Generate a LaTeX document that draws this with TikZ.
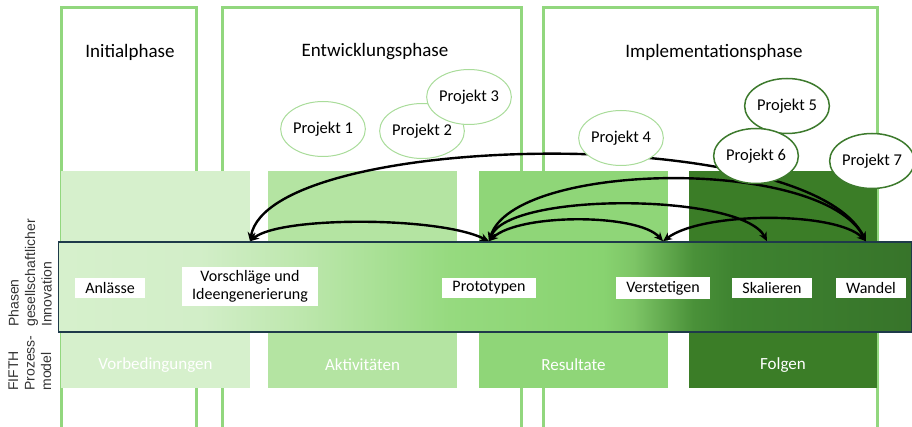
\documentclass[tikz,border=0pt]{standalone}
\usepackage{fontspec}
\setmainfont{Carlito}
\newfontfamily\sidefont{Liberation Sans}
\usetikzlibrary{shapes.geometric,arrows.meta}
\definecolor{phaseline}{HTML}{92D77E}
\definecolor{colA}{HTML}{D6F0CC}
\definecolor{colB}{HTML}{B4E4A2}
\definecolor{colC}{HTML}{8FD678}
\definecolor{colD}{HTML}{3B7D27}
\definecolor{bandline}{HTML}{1E3A4A}
\definecolor{projlight}{HTML}{A9DC9A}
\definecolor{projdark}{HTML}{3D7A2D}
\definecolor{sidetext}{HTML}{333333}
\definecolor{bsA}{HTML}{D6F0CC}
\definecolor{bsB}{HTML}{D2EEC8}
\definecolor{bsC}{HTML}{BDE7AD}
\definecolor{bsD}{HTML}{96DA7F}
\definecolor{bsE}{HTML}{88D370}
\definecolor{bsF}{HTML}{7DC566}
\definecolor{bsG}{HTML}{4A9139}
\definecolor{bsH}{HTML}{3E8330}
\definecolor{bsI}{HTML}{37742A}
\pgfdeclarehorizontalshading{bandshade}{100bp}{color(0bp)=(bsA); color(25bp)=(bsA);
    color(33.3bp)=(bsB); color(39.2bp)=(bsC); color(47.9bp)=(bsD); color(56.9bp)=(bsE);
    color(58.7bp)=(bsF); color(62.2bp)=(bsG); color(64.6bp)=(bsH); color(75bp)=(bsI); color(100bp)=(bsI)}
\tikzset{
    phase/.style={draw=phaseline, line width=3pt},
    phasetitle/.style={font=\fontsize{19}{22}\selectfont},
    colname/.style={text=white, font=\fontsize{17}{20}\selectfont},
    stage/.style={fill=white, inner xsep=10pt, inner ysep=4pt, align=center, font=\fontsize{16}{18}\selectfont},
    side/.style={rotate=90, align=left, inner sep=0pt, text=sidetext, font=\sidefont\fontsize{14}{16.5}\selectfont},
    proj/.style={ellipse, fill=white, draw=projlight, line width=1pt, minimum width=80pt, minimum height=55pt, inner sep=0pt, font=\fontsize{16.5}{18}\selectfont},
    projdk/.style={proj, draw=projdark, line width=1.5pt},
    conn/.style={line width=2.4pt, <->, >={Stealth[length=9pt,width=8pt]}}
}
\begin{document}
\begin{tikzpicture}[x=1pt, y=-1pt]
    \useasboundingbox (0,0) rectangle (912,427);
    \clip (0,0) rectangle (912,427);
    \draw[phase] (61,8) rectangle (196,450);
    \draw[phase] (222,8) rectangle (521,450);
    \draw[phase] (543,8) rectangle (877,450);
    \fill[colA] (61,171) rectangle (250,388);
    \fill[colB] (268,171) rectangle (457,388);
    \fill[colC] (479,171) rectangle (668,388);
    \fill[colD] (689,171) rectangle (877,388);
    \node[phasetitle] (initial) at (130,52) {Initialphase};
    \node[phasetitle] (entw) at (375,52) {Entwicklungsphase};
    \node[phasetitle] (impl) at (714,52) {Implementationsphase};
    \node[colname] (vorbed) at (155.5,365) {Vorbedingungen};
    \node[colname] (aktiv) at (362.5,365) {Aktivitäten};
    \node[colname] (result) at (573.5,365) {Resultate};
    \node[colname] (folgen) at (783,365) {Folgen};
    \node[draw=bandline, line width=1.5pt, shading=bandshade, minimum width=853pt, minimum height=90pt, inner sep=0pt] (band) at (485,287) {};
    \node[stage] (anlass) at (110,288) {Anlässe};
    \node[stage] (vorschlag) at (250,286.5) {Vorschläge und\\Ideengenerierung};
    \node[stage] (proto) at (489,288) {Prototypen};
    \node[stage] (verst) at (663,288) {Verstetigen};
    \node[stage] (skal) at (772,288) {Skalieren};
    \node[stage] (wandel) at (871,288) {Wandel};
    \node[side] (phasen) at (30,273) {Phasen\\gesellschaftlicher\\Innovation};
    \node[side] (fifth) at (30,363) {FIFTH\\Prozess-\\model};
    \coordinate (vT) at (vorschlag.north |- band.north);
    \coordinate (pT) at (proto.north |- band.north);
    \coordinate (veT) at (verst.north |- band.north);
    \coordinate (sT) at ([xshift=-5]skal.north |- band.north);
    \coordinate (wT) at ([xshift=-5]wandel.north |- band.north);
    \draw[conn] (vT) .. controls +(30,-25) and +(-50,-25) .. (pT);
    \draw[conn] (vT) .. controls +(20,-110) and +(-60,-120) .. (wT);
    \draw[conn] (pT) .. controls +(25,-80) and +(-45,-85) .. (wT);
    \draw[conn] (pT) .. controls +(20,-50) and +(-25,-48) .. (sT);
    \draw[conn] (pT) .. controls +(30,-28) and +(-25,-28) .. (veT);
    \draw[conn] (veT) .. controls +(40,-30) and +(-30,-30) .. (wT);
    \node[proj] (p1) at (323,129) {Projekt 1};
    \node[proj] (p2) at (422,131) {Projekt 2};
    \node[proj] (p3) at (469,97) {Projekt 3};
    \node[proj] (p4) at (621,138) {Projekt 4};
    \node[projdk] (p5) at (787,106) {Projekt 5};
    \node[projdk] (p6) at (756,156) {Projekt 6};
    \node[projdk] (p7) at (872,161) {Projekt 7};
\end{tikzpicture}
\end{document}
